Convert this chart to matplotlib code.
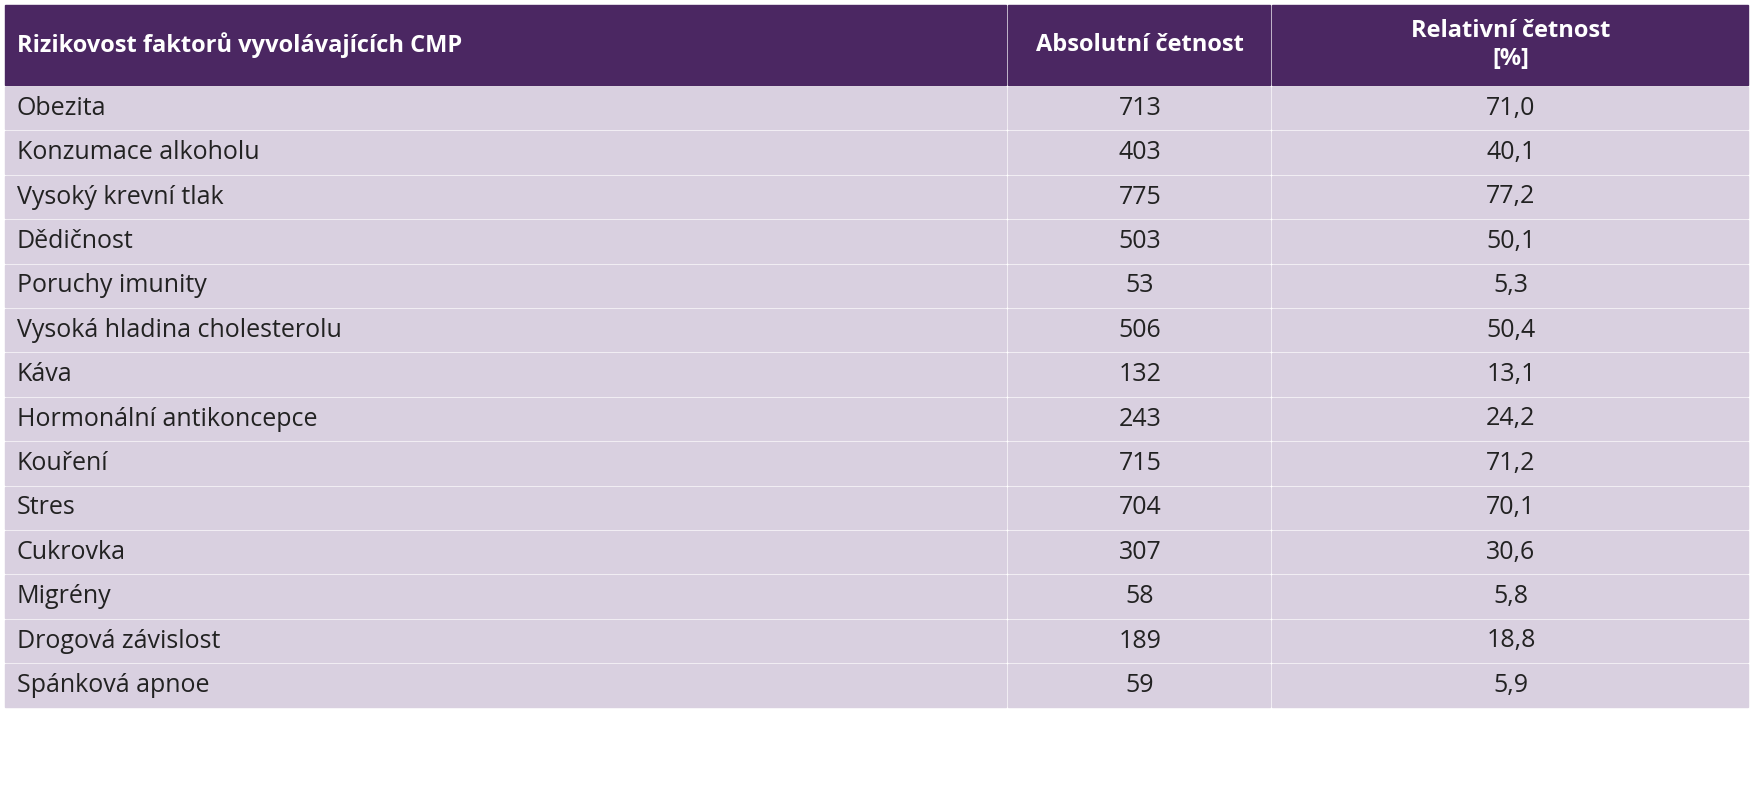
import matplotlib
matplotlib.use("Agg")
import matplotlib.pyplot as plt
from matplotlib.patches import Rectangle

plt.rcParams['font.family'] = ['Open Sans', 'DejaVu Sans']

headers = ["Rizikovost faktorů vyvolávajících CMP", "Absolutní četnost", "Relativní četnost\n[%]"]
factors = ["Obezita", "Konzumace alkoholu", "Vysoký krevní tlak", "Dědičnost", "Poruchy imunity",
           "Vysoká hladina cholesterolu", "Káva", "Hormonální antikoncepce", "Kouření", "Stres",
           "Cukrovka", "Migrény", "Drogová závislost", "Spánková apnoe"]
absolute = [713, 403, 775, 503, 53, 506, 132, 243, 715, 704, 307, 58, 189, 59]
relative = ["71,0", "40,1", "77,2", "50,1", "5,3", "50,4", "13,1", "24,2", "71,2", "70,1",
            "30,6", "5,8", "18,8", "5,9"]

W, H = 1756, 800
fig = plt.figure(figsize=(W / 100, H / 100), dpi=100)
ax = fig.add_axes([0, 0, 1, 1])
ax.set_xlim(0, W)
ax.set_ylim(H, 0)
ax.axis('off')

header_col = '#4b2762'
row_col = '#d9d0e0'
cols = [5, 1008, 1272, 1750]
top, head_h, row_h = 5, 80, 44.4
fs_head, fs_body = 17, 18

# header
for i in range(3):
    ax.add_patch(Rectangle((cols[i], top), cols[i + 1] - cols[i] - 2, head_h, color=header_col))
ax.text(cols[0] + 12, top + head_h / 2, headers[0], color='white', fontsize=fs_head,
        fontweight='bold', va='center', ha='left')
for i in (1, 2):
    ax.text((cols[i] + cols[i + 1]) / 2, top + head_h / 2, headers[i], color='white',
            fontsize=fs_head, fontweight='bold', va='center', ha='center', linespacing=1.2)

for r, (f, a, p) in enumerate(zip(factors, absolute, relative)):
    y = top + head_h + 2 + r * row_h
    for i in range(3):
        ax.add_patch(Rectangle((cols[i], y), cols[i + 1] - cols[i] - 2, row_h - 2, color=row_col))
    yc = y + (row_h - 2) / 2
    ax.text(cols[0] + 12, yc, f, fontsize=fs_body, va='center', ha='left', color='#222222')
    ax.text((cols[1] + cols[2]) / 2, yc, str(a), fontsize=fs_body, va='center', ha='center', color='#222222')
    ax.text((cols[2] + cols[3]) / 2, yc, p, fontsize=fs_body, va='center', ha='center', color='#222222')

fig.savefig("out.png", dpi=100, facecolor='white')
